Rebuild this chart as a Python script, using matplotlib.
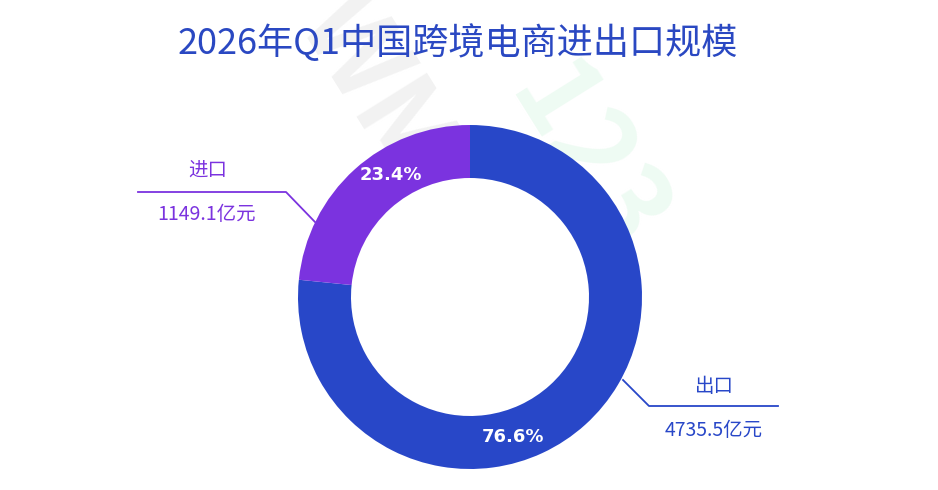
import matplotlib.pyplot as plt
import numpy as np

plt.rcParams['font.family'] = ['Noto Sans CJK SC', 'DejaVu Sans']

# data
labels = ['出口', '进口']
values = [4735.5, 1149.1]      # 亿元, as labelled
shares = [76.6, 23.4]          # % as shown on the ring
colors = ['#2847C8', '#7B33DF']
title = '2026年Q1中国跨境电商进出口规模'

W, H = 938, 490
fig = plt.figure(figsize=(W / 100, H / 100), dpi=100)
ax = fig.add_axes([0, 0, 1, 1])
ax.set_xlim(0, W)
ax.set_ylim(0, H)
ax.set_aspect('equal')
ax.axis('off')

# faint watermark
ax.text(375, 400, 'WM', fontsize=80, fontweight='bold', color='#F2F2F2',
        rotation=-58, ha='center', va='center', zorder=0, clip_on=True)
ax.text(585, 330, '123', fontsize=80, fontweight='bold', color='#EEFBF3',
        rotation=-58, ha='center', va='center', zorder=0)

cx, cy = 470, H - 297
R = 172
wedges, _ = ax.pie(shares, colors=colors, startangle=90, counterclock=False,
                   center=(cx, cy), radius=R,
                   wedgeprops=dict(width=R - 119, edgecolor='none'))
ax.set_xlim(0, W)
ax.set_ylim(0, H)

# percent labels inside the ring
label_ang = [-72.9, 123]
for p, a in zip(shares, label_ang):
    r = 146
    ax.text(cx + r * np.cos(np.radians(a)), cy + r * np.sin(np.radians(a)),
            f'{p:.1f}%', color='white', fontsize=13, fontweight='bold',
            ha='center', va='center', family=['DejaVu Sans'])

# leader lines and outside labels
# export (right bottom)
ax.plot([623, 649, 778], [H - 380, H - 406, H - 406], color=colors[0], lw=1.3)
ax.text(714, H - 386, labels[0], color=colors[0], fontsize=14, ha='center', va='center')
ax.text(714, H - 430, f'{values[0]:.1f}亿元', color=colors[0], fontsize=14,
        ha='center', va='center')
# import (left top)
ax.plot([315, 286, 138], [H - 222, H - 192, H - 192], color=colors[1], lw=1.3)
ax.text(208, H - 170, labels[1], color=colors[1], fontsize=14, ha='center', va='center')
ax.text(207, H - 215, f'{values[1]:.1f}亿元', color=colors[1], fontsize=14,
        ha='center', va='center')

ax.text(458, H - 43, title, color='#2A48C2', fontsize=26, fontweight='medium',
        ha='center', va='center')

fig.savefig('out.png', dpi=100)
